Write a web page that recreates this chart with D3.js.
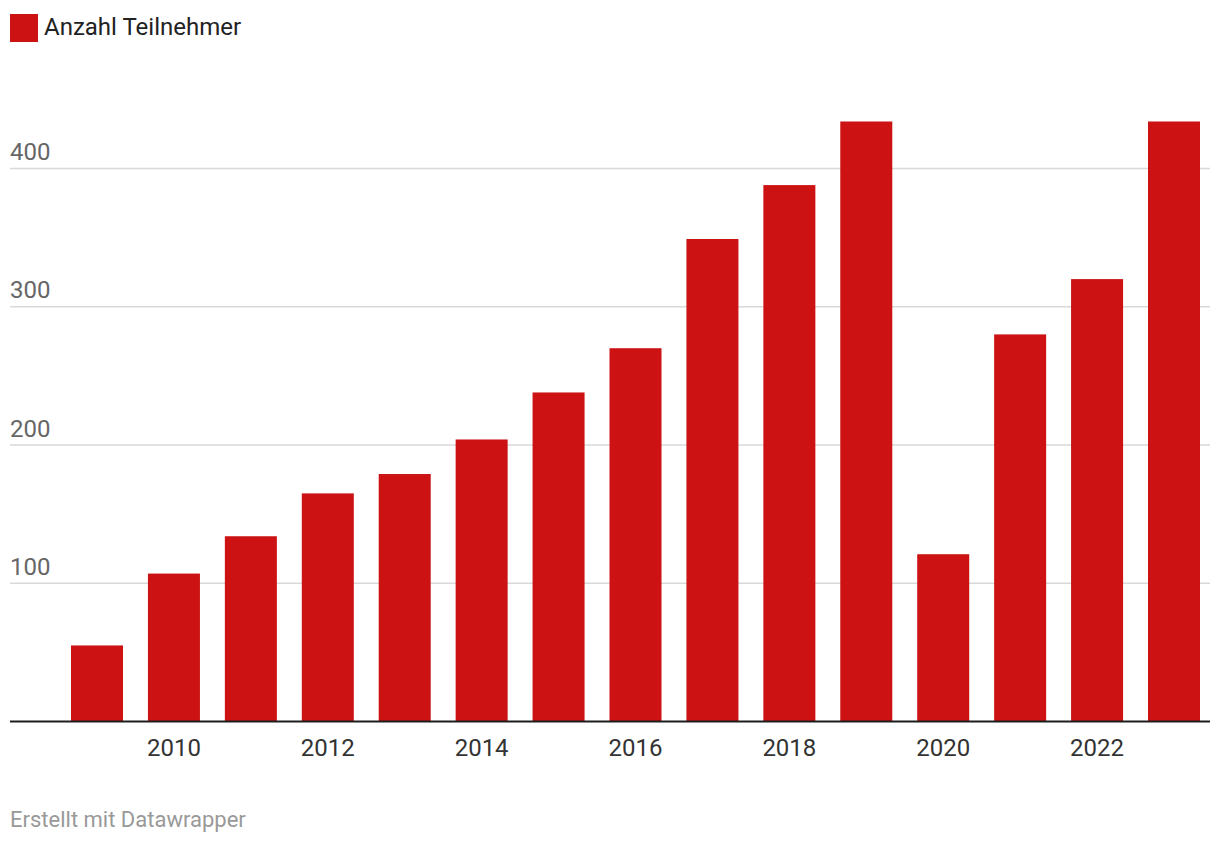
<!DOCTYPE html>
<html><head><meta charset="utf-8">
<script src="https://cdn.jsdelivr.net/npm/d3@7"></script>
<style>
html,body{margin:0;padding:0;background:#fff;}
text{font-family:Roboto,"Noto Sans",sans-serif;}
</style></head>
<body>
<svg id="c" width="1220" height="846"></svg>
<script>
const years = [2009,2010,2011,2012,2013,2014,2015,2016,2017,2018,2019,2020,2021,2022,2023];
const participants = [55,107,134,165,179,204,238,270,349,388,434,121,280,320,434];
const yTicks = [100,200,300,400];
const xTickYears = [2010,2012,2014,2016,2018,2020,2022];
const seriesName = "Anzahl Teilnehmer";
const footer = "Erstellt mit Datawrapper";

const svg = d3.select("#c");
const red = "#cc1213";

const x = d3.scaleBand().domain(years).range([71,1200]).paddingInner(0.324).paddingOuter(0);
const y = d3.scaleLinear().domain([0,400]).range([721.5,168.5]);

// grid
svg.append("g").selectAll("line").data(yTicks).join("line")
  .attr("x1",10).attr("x2",1210)
  .attr("y1",d=>y(d)).attr("y2",d=>y(d))
  .attr("stroke","#d9d9d9").attr("stroke-width",1.5);
svg.append("g").selectAll("text").data(yTicks).join("text")
  .attr("x",10).attr("y",d=>y(d)-8.5)
  .attr("fill","#666").style("font-size","24px")
  .text(d=>d);

// bars
svg.append("g").selectAll("rect").data(years).join("rect")
  .attr("x",d=>x(d)).attr("width",x.bandwidth())
  .attr("y",(d,i)=>y(participants[i]))
  .attr("height",(d,i)=>y(0)-y(participants[i]))
  .attr("fill",red);

// baseline
svg.append("line").attr("x1",10).attr("x2",1210)
  .attr("y1",y(0)).attr("y2",y(0))
  .attr("stroke","#1d1d1d").attr("stroke-width",2);

// x labels
svg.append("g").selectAll("text").data(xTickYears).join("text")
  .attr("x",d=>x(d)+x.bandwidth()/2).attr("y",756)
  .attr("text-anchor","middle").attr("fill","#333").style("font-size","24px")
  .text(d=>d);

// legend
svg.append("rect").attr("x",10).attr("y",14).attr("width",28).attr("height",28).attr("fill",red);
svg.append("text").attr("x",44).attr("y",35).attr("fill","#222").style("font-size","24px").text(seriesName);

// footer
svg.append("text").attr("x",10).attr("y",827).attr("fill","#999").style("font-size","22px").text(footer);
</script>
</body></html>
